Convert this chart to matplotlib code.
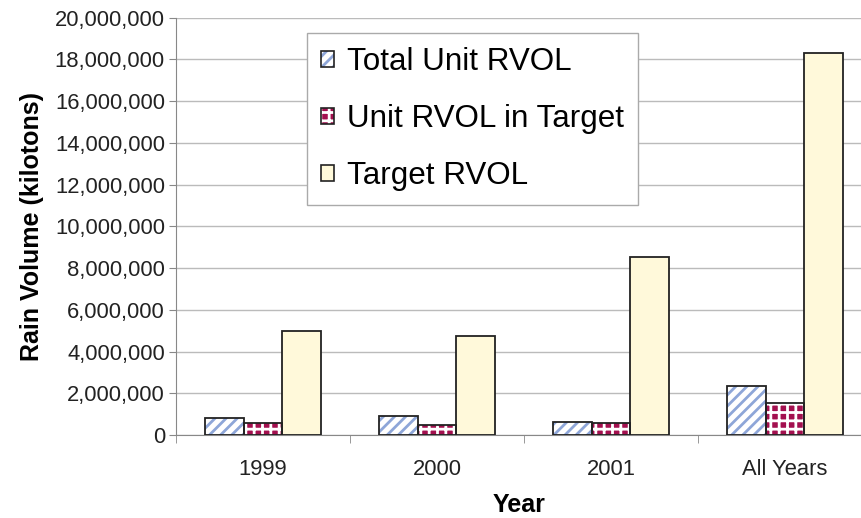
import matplotlib
matplotlib.use("Agg")
import matplotlib.pyplot as plt
from matplotlib.patches import Patch
from matplotlib.ticker import FuncFormatter, FixedLocator
from matplotlib.legend_handler import HandlerTuple
import numpy as np

categories = ["1999", "2000", "2001", "All Years"]
total_unit_rvol = [830000, 910000, 640000, 2350000]
unit_rvol_in_target = [560000, 480000, 560000, 1550000]
target_rvol = [4990000, 4750000, 8540000, 18290000]
series_names = ["Total Unit RVOL", "Unit RVOL in Target", "Target RVOL"]

plt.rcParams['font.family'] = ['Liberation Sans', 'DejaVu Sans']
plt.rcParams['hatch.linewidth'] = 2.0

fig = plt.figure(figsize=(8.62, 5.18), dpi=100)
ax = fig.add_axes([176/862, 1 - 435/518, 1 - 176/862, (435 - 17.7)/518])

x = np.arange(len(categories))
w = 2/9
edge = '#222222'

styles = [
    dict(facecolor='white', hatch_color='#8EA6D8', hatch='///'),
    dict(facecolor='#A3104F', hatch_color='white', hatch='++'),
    dict(facecolor='#FFF9DA', hatch_color='#FFF9DA', hatch=None),
]
data = [total_unit_rvol, unit_rvol_in_target, target_rvol]
handles = []
for i, (vals, st) in enumerate(zip(data, styles)):
    pos = x + (i - 1) * w
    ax.bar(pos, vals, width=w, color=st['facecolor'], edgecolor=st['hatch_color'],
           hatch=st['hatch'], linewidth=0, zorder=2)
    ax.bar(pos, vals, width=w, fill=False, edgecolor=edge, linewidth=1.3, zorder=3)
    h1 = Patch(facecolor=st['facecolor'], edgecolor=st['hatch_color'], hatch=st['hatch'], linewidth=0)
    h2 = Patch(fill=False, edgecolor=edge, linewidth=1.2)
    handles.append((h1, h2))

ax.set_ylim(0, 20000000)
ax.set_yticks(np.arange(0, 20000001, 2000000))
ax.yaxis.set_major_formatter(FuncFormatter(lambda v, p: f"{int(v):,}"))
ax.set_xlim(-0.5, 3.5 - 10/174)
ax.set_xticks(x)
ax.set_xticklabels(categories)
ax.xaxis.set_minor_locator(FixedLocator([-0.5, 0.5, 1.5, 2.5]))
ax.tick_params(axis='x', which='major', length=0, pad=17, labelsize=15.8, colors='#222222')
ax.tick_params(axis='x', which='minor', length=6, color='#888888', direction='out')
ax.tick_params(axis='y', length=5, color='#888888', labelsize=15.8, pad=3, labelcolor='#222222')

ax.grid(axis='y', color='#BBBBBB', linewidth=1.0, zorder=0)
ax.set_axisbelow(True)
for s in ['top', 'right']:
    ax.spines[s].set_visible(False)
ax.spines['left'].set_color('#888888')
ax.spines['bottom'].set_color('#888888')
ax.spines['left'].set_zorder(4)

ax.set_ylabel("Rain Volume (kilotons)", fontsize=18, fontweight='bold', labelpad=8)
ax.set_xlabel("Year", fontsize=18, fontweight='bold', labelpad=10)

leg = ax.legend(handles, series_names, handler_map={tuple: HandlerTuple(ndivide=1, pad=0)},
                loc='upper left', bbox_to_anchor=(307/862, 1 - 33/518),
                bbox_transform=fig.transFigure, borderaxespad=0,
                fontsize=22.6, frameon=True, fancybox=False, framealpha=1,
                edgecolor='#AAAAAA', handlelength=0.4, handleheight=0.4,
                handletextpad=0.42, labelspacing=0.86, borderpad=0.45)
leg.get_frame().set_linewidth(1.0)
leg.set_zorder(5)

fig.savefig("out.png", dpi=100)
